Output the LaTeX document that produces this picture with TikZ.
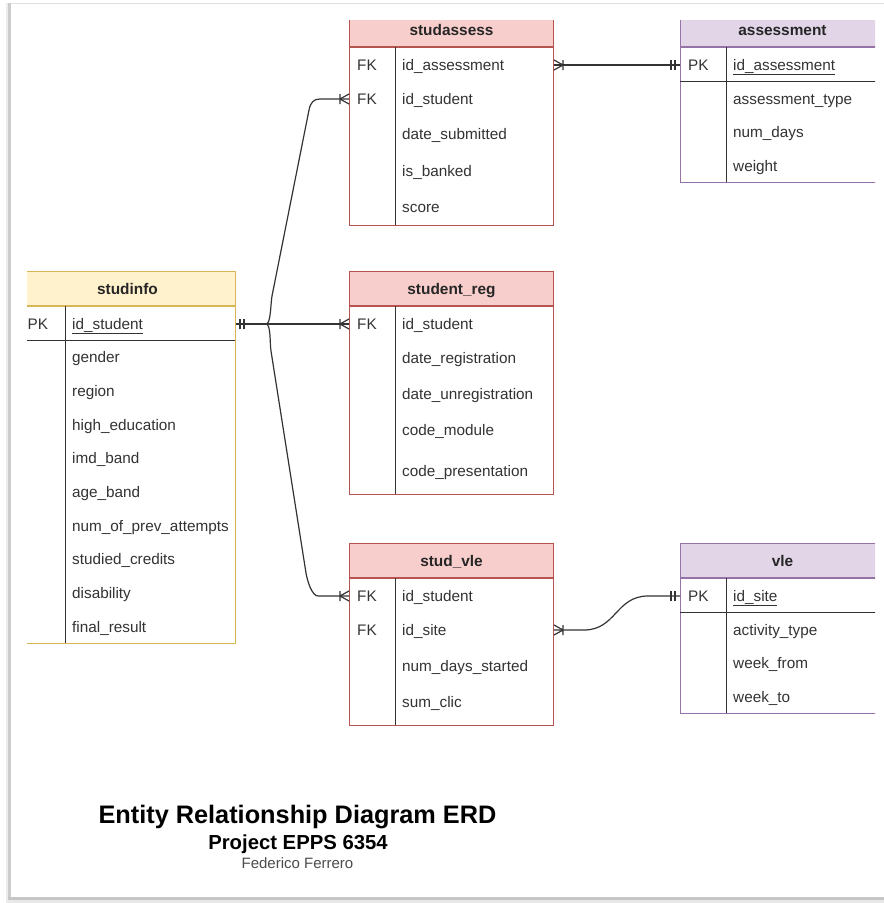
\documentclass[tikz,border=0pt]{standalone}
\usepackage{fontspec}
\setmainfont{Liberation Sans}
\usetikzlibrary{decorations.markings}

\definecolor{redfill}{HTML}{F8CECC}
\definecolor{redline}{HTML}{B85450}
\definecolor{purpfill}{HTML}{E1D5E7}
\definecolor{purpline}{HTML}{9673A6}
\definecolor{yelfill}{HTML}{FFF2CC}
\definecolor{yelline}{HTML}{D6B656}
\definecolor{txt}{HTML}{333333}

\tikzset{
  hdr/.style={draw=#1line, fill=#1fill, line width=1pt, inner sep=0pt,
    text height=11pt, text depth=0pt,
    font=\fontsize{15.4}{18}\selectfont\bfseries, text=black!85},
  body/.style={draw=#1line, fill=white, line width=1pt, inner sep=0pt},
  fld/.style={anchor=west, inner sep=0pt, text height=10.5pt, text depth=0pt,
    font=\fontsize{15.3}{18}\selectfont, text=txt},
  div/.style={draw=black!80, line width=1pt},
  link/.style={draw=black!80, line width=1.2pt},
  crowend/.style={postaction={decorate, decoration={markings,
    mark=at position 1 with {\draw[link] (-9pt,-5pt) -- (-9pt,5pt)
      (-9pt,0pt) -- (0pt,5pt) (-9pt,0pt) -- (0pt,-5pt);}}}},
  crowstart/.style={postaction={decorate, decoration={markings,
    mark=at position 0 with {\draw[link] (9pt,-5pt) -- (9pt,5pt)
      (9pt,0pt) -- (0pt,5pt) (9pt,0pt) -- (0pt,-5pt);}}}},
  oneend/.style={postaction={decorate, decoration={markings,
    mark=at position 1 with {\draw[link] (-5pt,-5pt) -- (-5pt,5pt)
      (-9pt,-5pt) -- (-9pt,5pt);}}}},
  onestart/.style={postaction={decorate, decoration={markings,
    mark=at position 0 with {\draw[link] (4pt,-5pt) -- (4pt,5pt)
      (8pt,-5pt) -- (8pt,5pt);}}}}
}

\begin{document}
\begin{tikzpicture}[x=1pt,y=-1pt]
  \useasboundingbox (0,0) rectangle (884,903);
  \fill[white] (0,0) rectangle (884,903);
  % page frame
  \fill[gray!15] (6,3) rectangle (8,903);
  \fill[gray!40] (8,3) rectangle (11,899);
  \fill[gray!45] (8,897) rectangle (884,900);
  \fill[gray!18] (8,900) rectangle (884,903);
  \draw[gray!25] (11,3) -- (884,3);

  \begin{scope}
    \clip (27,20) rectangle (875,895);

    % studassess
    \node[body=red, minimum width=204, minimum height=178, anchor=north west] (sa) at (349,47) {};
    \node[hdr=red, minimum width=204, minimum height=34, anchor=south west] (sa-h) at (349,47) {studassess};
    \draw[div] (395,47) -- (395,225);
    \node[fld] (sa-k1) at (357,65) {FK};
    \node[fld] (sa-k2) at (357,99) {FK};
    \foreach \n/\y/\t in {1/65/id\_assessment, 2/99/id\_student, 3/134/date\_submitted,
      4/171/is\_banked, 5/207/score}
      \node[fld] (sa-f\n) at (402,\y) {\t};

    % assessment
    \node[body=purp, minimum width=204, minimum height=135, anchor=north west] (as) at (680,47) {};
    \node[hdr=purp, minimum width=204, minimum height=34, anchor=south west] (as-h) at (680,47) {assessment};
    \draw[div] (726,47) -- (726,182);
    \draw[div] (680,81) -- (884,81);
    \node[fld] (as-k1) at (688,65) {PK};
    \node[fld] (as-f1) at (733,65) {\underline{id\_assessment}};
    \foreach \n/\y/\t in {2/99/assessment\_type, 3/132/num\_days, 4/166/weight}
      \node[fld] (as-f\n) at (733,\y) {\t};

    % studinfo
    \node[body=yel, minimum width=216, minimum height=337, anchor=north west] (si) at (19,306) {};
    \node[hdr=yel, minimum width=216, minimum height=34, anchor=south west] (si-h) at (19,306) {studinfo};
    \draw[div] (65,306) -- (65,643);
    \draw[div] (19,340) -- (235,340);
    \node[fld] (si-k1) at (27.5,324) {PK};
    \node[fld] (si-f1) at (72,324) {\underline{id\_student}};
    \foreach \n/\y/\t in {2/357/gender, 3/391/region, 4/425/high\_education, 5/458/imd\_band,
      6/492/age\_band, 7/526/num\_of\_prev\_attempts, 8/559/studied\_credits,
      9/593/disability, 10/627/final\_result}
      \node[fld] (si-f\n) at (72,\y) {\t};

    % student_reg
    \node[body=red, minimum width=204, minimum height=188, anchor=north west] (sr) at (349,306) {};
    \node[hdr=red, minimum width=204, minimum height=34, anchor=south west] (sr-h) at (349,306) {student\_reg};
    \draw[div] (395,306) -- (395,494);
    \node[fld] (sr-k1) at (357,324) {FK};
    \foreach \n/\y/\t in {1/324/id\_student, 2/358/date\_registration, 3/394/date\_unregistration,
      4/430/code\_module, 5/471/code\_presentation}
      \node[fld] (sr-f\n) at (402,\y) {\t};

    % stud_vle
    \node[body=red, minimum width=204, minimum height=147, anchor=north west] (sv) at (349,578) {};
    \node[hdr=red, minimum width=204, minimum height=34, anchor=south west] (sv-h) at (349,578) {stud\_vle};
    \draw[div] (395,578) -- (395,725);
    \node[fld] (sv-k1) at (357,596) {FK};
    \node[fld] (sv-k2) at (357,630) {FK};
    \foreach \n/\y/\t in {1/596/id\_student, 2/630/id\_site, 3/666/num\_days\_started, 4/702/sum\_clic}
      \node[fld] (sv-f\n) at (402,\y) {\t};

    % vle
    \node[body=purp, minimum width=204, minimum height=135, anchor=north west] (vl) at (680,578) {};
    \node[hdr=purp, minimum width=204, minimum height=34, anchor=south west] (vl-h) at (680,578) {vle};
    \draw[div] (726,578) -- (726,713);
    \draw[div] (680,612) -- (884,612);
    \node[fld] (vl-k1) at (688,596) {PK};
    \node[fld] (vl-f1) at (733,596) {\underline{id\_site}};
    \foreach \n/\y/\t in {2/630/activity\_type, 3/663/week\_from, 4/697/week\_to}
      \node[fld] (vl-f\n) at (733,\y) {\t};

    % relations
    \draw[link, crowstart, oneend] (sa.east |- sa-f1) -- (as.west |- as-f1);
    \draw[link, onestart, crowend] (si.east |- si-f1) -- (sr.west |- sr-f1);
    \draw[link, onestart, crowend] (si.east |- si-f1) -- ++(30,0)
      .. controls +(5,0) and +(-1.5,8) .. (272,296) -- (309,110)
      .. controls +(1.6,-8) and +(-6,0) .. (320,99) -- (sa.west |- sa-f2);
    \draw[link, onestart, crowend] (si.east |- si-f1) -- ++(30,0)
      .. controls +(5,0) and +(-1.3,-8) .. (271,351) -- (306,573)
      .. controls +(1.3,8) and +(-6,0) .. (318,596) -- (sv.west |- sv-f1);
    \draw[link, crowstart, oneend] (sv.east |- sv-f2) -- ++(30,0)
      .. controls +(32,0) and +(-32,0) .. (648,596) -- (vl.west |- vl-f1);
  \end{scope}

  % title
  \node[font=\fontsize{25.3}{30}\selectfont\bfseries, inner sep=0pt, text height=18pt, text depth=0pt] (ttl) at (297.5,814) {Entity Relationship Diagram ERD};
  \node[font=\fontsize{20.3}{24}\selectfont\bfseries, inner sep=0pt, text height=14.5pt, text depth=0pt] (prj) at (298,842) {Project EPPS 6354};
  \node[font=\fontsize{15}{18}\selectfont, text=black!70, inner sep=0pt, text height=10.8pt, text depth=0pt] (aut) at (297.5,863) {Federico Ferrero};
\end{tikzpicture}
\end{document}
